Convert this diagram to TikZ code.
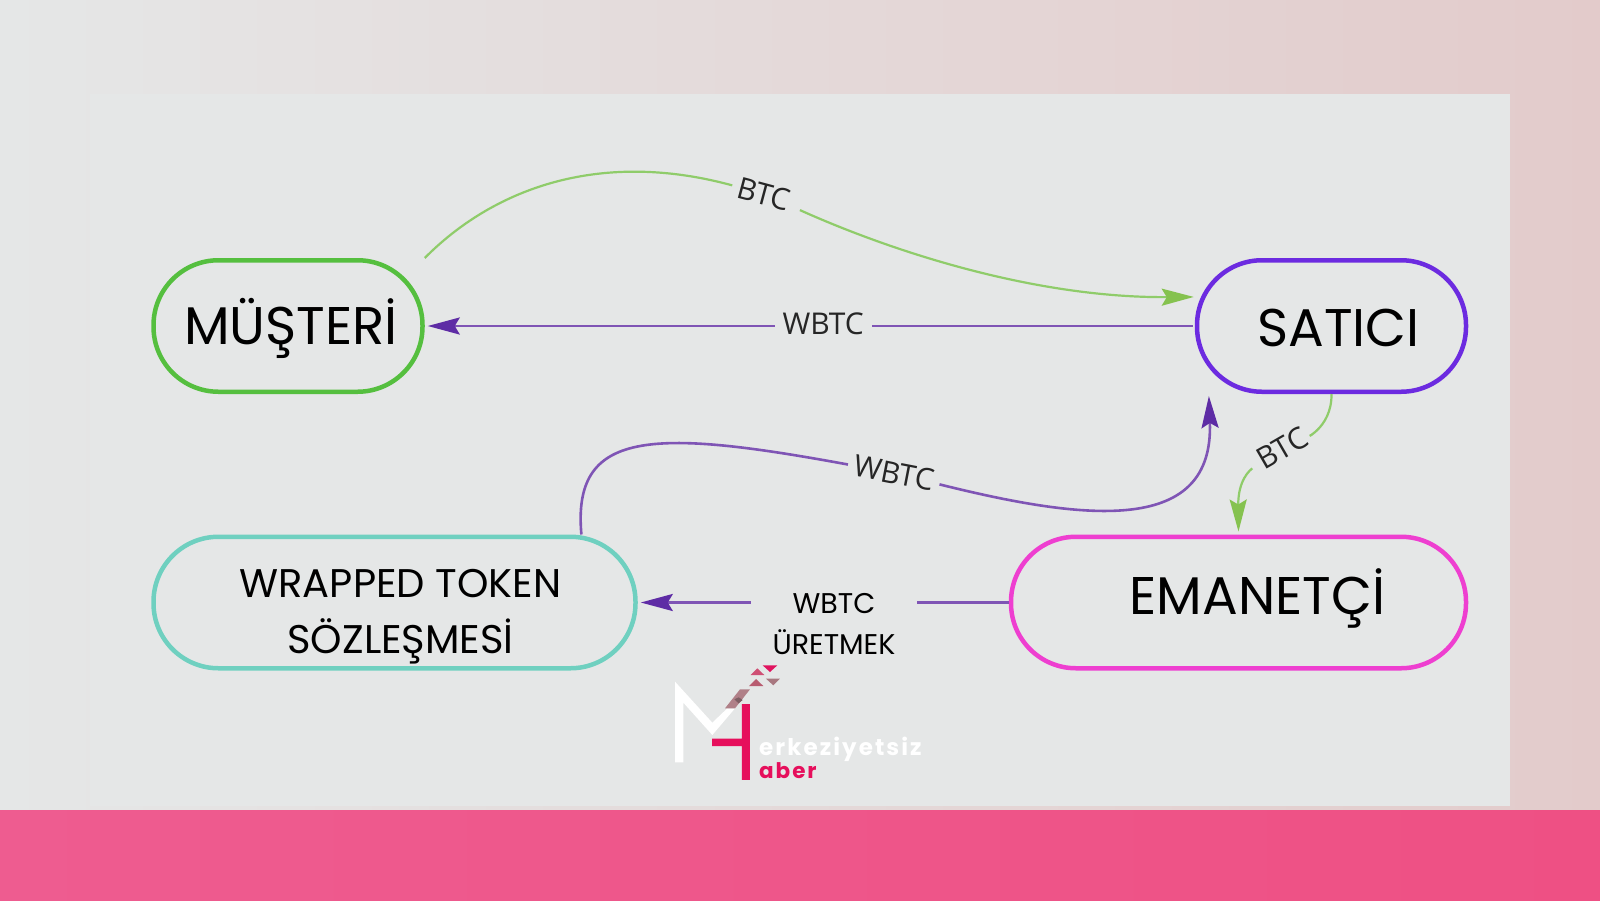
\documentclass[tikz,border=0pt]{standalone}
\usepackage{fontspec}
\setmainfont{Poppins}
\newfontfamily\edgefont{Open Sans}
\newfontfamily\logofont[LetterSpace=9]{Poppins}
\usepackage{tikz}
\usetikzlibrary{positioning,arrows.meta}
\definecolor{panelgray}{HTML}{E5E7E7}
\definecolor{bgright}{HTML}{E3CBCB}
\definecolor{barleft}{HTML}{EE5C90}
\definecolor{barright}{HTML}{EE5084}
\definecolor{pillgreen}{HTML}{55BF3F}
\definecolor{pillviolet}{HTML}{6C2BE0}
\definecolor{pillteal}{HTML}{6FD0C0}
\definecolor{pillpink}{HTML}{EE3FD0}
\definecolor{linegreen}{HTML}{8FCC6A}
\definecolor{tipgreen}{HTML}{85C24F}
\definecolor{linepurple}{HTML}{7F55B5}
\definecolor{tippurple}{HTML}{5E2CA5}
\definecolor{logopink}{HTML}{E60F5C}
\definecolor{logotaupe}{HTML}{B08088}
\definecolor{logodark}{HTML}{7E5F64}
\definecolor{logotria}{HTML}{E0135F}
\definecolor{logotrib}{HTML}{CF4F74}
\definecolor{logotric}{HTML}{B85C70}
\definecolor{logotrid}{HTML}{A87880}
\tikzset{
	x=1pt, y=-1pt,
	pill/.style={rectangle, draw, line width=4.5pt, rounded corners=65pt, inner sep=0pt, minimum width=269pt, minimum height=131.5pt},
	pilltext/.style={font=\fontsize{53}{56}\selectfont, text=black, inner sep=0pt},
	edgetext/.style={font=\edgefont\fontsize{30}{32}\selectfont, text=black!85, inner sep=6pt},
	minttext/.style={font=\fontsize{28.5}{41}\selectfont, text=black, fill=panelgray, align=center, inner xsep=22pt, inner ysep=2pt},
	logotext/.style={font=\logofont\bfseries\fontsize{23}{24}\selectfont, anchor=base west, inner sep=0pt},
	greenline/.style={draw=linegreen, line width=2.2pt, -{Stealth[length=32pt,width=17pt,inset=5pt,color=tipgreen]}},
	purpleline/.style={draw=linepurple, line width=2.6pt, -{Stealth[length=32pt,width=17pt,inset=5pt,color=tippurple]}},
}

\begin{document}
\begin{tikzpicture}
	\useasboundingbox (0,0) rectangle (1600,900);
	%Background
	\shade[left color=panelgray, right color=bgright] (0,0) rectangle (1600,810);
	\fill[panelgray] (90,94) rectangle (1510,806);
	\shade[left color=barleft, right color=barright] (0,810) rectangle (1600,900);

	%Nodes
	\node[pill, draw=pillgreen, label={[pilltext,xshift=3pt,yshift=-2pt]center:MÜŞTERİ}] (musteri) at (288,326) {};
	\node[pill, draw=pillviolet, label={[pilltext,xshift=7pt,yshift=-2pt]center:SATICI}] (satici) [right=770pt of musteri] {};
	\node[pill, draw=pillteal, minimum width=482pt, label={[pilltext,font=\fontsize{40}{56}\selectfont,align=center,xshift=6pt,yshift=-14pt]center:{WRAPPED TOKEN\\SÖZLEŞMESİ}}] (wrapped) [below=140.5pt of musteri.south west, anchor=north west] {};
	\node[pill, draw=pillpink, minimum width=455pt, label={[pilltext,xshift=19pt,yshift=4pt]center:EMANETÇİ}] (emanetci) [below=140.5pt of satici.south east, anchor=north east] {};

	\node[edgetext, rotate=-15] (btctop) at (764,194) {BTC};
	\node[edgetext, rotate=30] (btcside) at (1282,448) {BTC};
	\node[edgetext, rotate=-11] (wbtcrise) at (894,473) {WBTC};

	%Lines
	\draw[greenline, shorten <=6pt, shorten >=1pt] (musteri.north east) .. controls (490,192) and (595,148) .. (btctop) .. controls (900,255) and (1040,298) .. (satici.168);
	\draw[purpleline, shorten >=3pt, shorten <=2pt] (satici.west) -- node[edgetext, pos=.4825, fill=panelgray, inner ysep=2pt, inner xsep=8pt, yshift=2pt] (wbtctop) {WBTC} (musteri.east);
	\draw[greenline, shorten <=3pt, shorten >=3pt] (satici.south) .. controls (1332,430) and (1300,440) .. (btcside) .. controls (1250,470) and (1238,480) .. (emanetci.north);
	\draw[purpleline, shorten >=2pt] (wrapped.20.7) .. controls (572,430) and (650,428) .. (wbtcrise) .. controls (1090,522) and (1214,534) .. (satici.209.4);
	\draw[purpleline, shorten >=3pt] (emanetci.west) -- (wrapped.east);
	\node[minttext] (wbtcmint) at (834,624) {WBTC\\ÜRETMEK};

	%Logo
	\begin{scope}[shift={(640,640)}, x=.3333pt, y=-.3333pt]
		\fill[white] (105,125) -- (217,248) -- (262,205) -- (285,205) -- (217,285) -- (130,188) -- (130,367) -- (105,367) -- cycle;
		\fill[logotaupe] (255,205) -- (300,148) -- (330,148) -- (285,205) -- cycle;
		\fill[logodark] (283,178) -- (296,172) -- (308,180) -- (296,190) -- cycle;
		\fill[logopink] (306,192) -- (330,192) -- (330,420) -- (306,420) -- (306,318) -- (216,318) -- (216,296) -- (306,296) -- cycle;
		\fill[logotria] (368,76) -- (412,76) -- (390,96) -- cycle;
		\fill[logotrib] (332,105) -- (373,105) -- (352,85) -- cycle;
		\fill[logotric] (327,138) -- (370,138) -- (348,117) -- cycle;
		\fill[logotrid] (378,116) -- (420,116) -- (400,136) -- cycle;
	\end{scope}
	\node[logotext, text=white] (logotop) at (759,755) {erkeziyetsiz};
	\node[logotext, text=logopink, font=\logofont\bfseries\fontsize{21.5}{24}\selectfont] (logobottom) at (759,778) {aber};
\end{tikzpicture}
\end{document}
